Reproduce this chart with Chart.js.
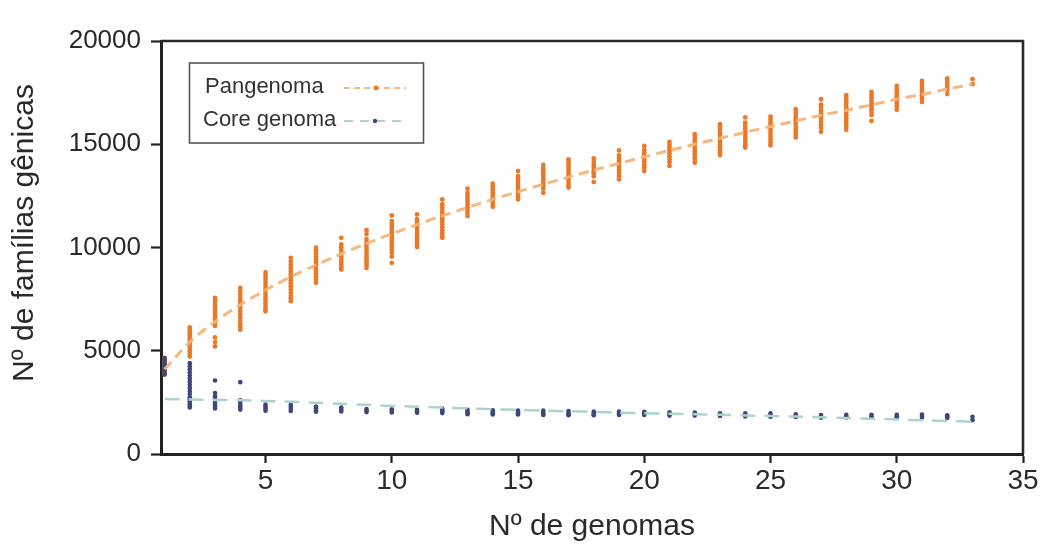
<!DOCTYPE html>
<html><head><meta charset="utf-8">
<script src="https://cdn.jsdelivr.net/npm/chart.js@4.4.1/dist/chart.umd.min.js"></script>
<style>html,body{margin:0;padding:0;background:#fff;}#wrap{width:1043px;height:546px;position:relative;}</style>
</head><body><div id="wrap"><canvas id="c" width="1043" height="546"></canvas></div>
<script>
const genomes = [1,2,3,4,5,6,7,8,9,10,11,12,13,14,15,16,17,18,19,20,21,22,23,24,25,26,27,28,29,30,31,32,33];
const panSamples = [
  [3850,3950,4050,4150,4250,4350,4450,4550,4650],
  [4720,4850,4980,5110,5240,5370,5500,5620,5750,5880,6010,6130],
  [5210,5420,5650,6200,6350,6500,6650,6800,6950,7100,7250,7400,7560],
  [6020,6150,6280,6440,6600,6760,6920,7080,7240,7400,7560,7720,7880,8040],
  [6910,7020,7140,7290,7440,7590,7740,7890,8040,8190,8340,8490,8640,8790],
  [7400,7530,7660,7810,7960,8110,8260,8410,8560,8710,8860,9010,9170,9330,9500],
  [8290,8440,8590,8730,8870,9010,9150,9290,9430,9570,9710,9850,9990],
  [8930,9040,9160,9300,9440,9580,9720,9860,10000,10150,10470],
  [9010,9150,9290,9430,9570,9710,9850,9990,10130,10270,10410,10650,10840],
  [9260,9560,9740,9880,10020,10160,10300,10440,10580,10720,10860,11000,11140,11280,11550],
  [10030,10130,10250,10390,10530,10670,10810,10950,11090,11230,11370,11600],
  [10470,10580,10700,10840,10980,11120,11260,11400,11540,11680,11820,11960,12100,12330],
  [11520,11670,11810,11950,12090,12230,12370,12510,12650,12850],
  [11970,12110,12250,12390,12530,12670,12810,12950,13090],
  [12330,12470,12610,12750,12890,13030,13170,13310,13450,13700],
  [12650,12850,12990,13130,13270,13410,13550,13690,13830,14000],
  [12900,13020,13150,13290,13430,13570,13710,13850,13990,14130,14270],
  [13170,13450,13590,13730,13870,14010,14150,14320],
  [13300,13480,13620,13760,13900,14040,14180,14320,14460,14700],
  [13700,13880,14020,14160,14300,14440,14580,14720,14920],
  [13950,14130,14270,14410,14550,14690,14830,14970,15110],
  [14110,14240,14370,14510,14650,14790,14930,15070,15210,15350,15490],
  [14480,14590,14710,14850,14990,15130,15270,15410,15550,15690,15830,15970],
  [14840,14950,15070,15210,15350,15490,15630,15770,15910,16050,16300],
  [14950,15080,15220,15360,15500,15640,15780,15920,16060,16200,16340],
  [15330,15450,15580,15720,15860,16000,16140,16280,16420,16560,16700],
  [15600,15800,15940,16080,16220,16360,16500,16640,16780,16920,17180],
  [15700,15840,15980,16120,16260,16400,16540,16680,16820,16960,17100,17240,17380],
  [16130,16420,16560,16700,16840,16980,17120,17260,17400,17540],
  [16670,16850,16990,17130,17270,17410,17550,17690,17830],
  [17050,17230,17370,17510,17650,17790,17930,18070],
  [17430,17630,17770,17910,18050,18190],
  [17910,18150]
];
const coreSamples = [
  [3850,3950,4050,4150,4250,4350,4450,4550,4650],
  [2250,2350,2450,2550,2650,2750,2900,3050,3200,3350,3500,3650,3800,3950,4100,4250,4400],
  [2200,2300,2400,2500,2650,2800,2950,3560],
  [2150,2250,2360,2480,2600,3480],
  [2100,2200,2300,2400],
  [2080,2180,2280,2380],
  [2050,2100,2200,2300],
  [2060,2150,2250],
  [2030,2100,2180],
  [2010,2080,2170],
  [2000,2070,2150],
  [1980,2040,2120,2200],
  [1930,1990,2060,2140],
  [1910,1970,2040,2120],
  [1910,1950,2020,2100],
  [1890,1940,2010,2100],
  [1880,1930,2000,2080],
  [1880,1910,1980,2050],
  [1890,1970,2050],
  [1890,1960,2040],
  [1860,1940,2020],
  [1860,1930,2010],
  [1840,1900,1970],
  [1820,1890,1970],
  [1800,1880,1970],
  [1790,1850,1920],
  [1760,1820,1890],
  [1770,1830,1900],
  [1770,1830,1900],
  [1770,1830,1900],
  [1770,1840,1910],
  [1740,1810,1880],
  [1640,1800]
];
const panFit = [4100,5420,6410,7230,7940,8580,9150,9690,10190,10660,11110,11530,11940,12330,12700,13060,13410,13750,14070,14390,14700,15000,15290,15580,15860,16130,16400,16650,16910,17180,17410,17670,17910];
const coreFit = [2660,2640,2620,2600,2570,2530,2480,2430,2380,2330,2290,2250,2210,2170,2140,2100,2070,2040,2000,1970,1950,1930,1900,1870,1840,1810,1780,1740,1710,1670,1630,1600,1560];
const xTicks = [5,10,15,20,25,30,35];
const yTicks = [0,5000,10000,15000,20000];
const seriesNames = ['Pangenoma','Core genoma'];
const xTitle = 'Nº de genomas';
const yTitle = 'Nº de famílias gênicas';

const orangeDot = 'rgb(234,120,38)';
const orangeLine = 'rgba(246,180,120,0.95)';
const blueDot = 'rgb(62,70,122)';
const tealLine = 'rgb(172,212,204)';
const FONT = '"Liberation Sans", Arial, sans-serif';

function scatterPts(samples){
  const out = [];
  samples.forEach((col,i)=>col.forEach(v=>out.push({x:genomes[i],y:v})));
  return out;
}

const decor = {
  id:'decor',
  afterDraw(chart){
    const {ctx, chartArea:a} = chart;
    ctx.save();
    ctx.strokeStyle='#2a2a2a'; ctx.lineWidth=2.6;
    ctx.beginPath(); ctx.moveTo(a.left, a.top); ctx.lineTo(a.right, a.top); ctx.lineTo(a.right, a.bottom); ctx.stroke();
    ctx.fillStyle='#2a2a2a';
    ctx.font='30px '+FONT;
    ctx.textAlign='center'; ctx.textBaseline='middle';
    ctx.save(); ctx.translate(25,233); ctx.rotate(-Math.PI/2); ctx.fillText(yTitle,0,0); ctx.restore();
    ctx.lineWidth=1.6; ctx.strokeStyle='#555';
    ctx.strokeRect(189.5,63,234,80);
    ctx.font='22px '+FONT; ctx.textAlign='left'; ctx.fillStyle='#333';
    ctx.fillText(seriesNames[0],205,87);
    ctx.fillText(seriesNames[1],203,120);
    ctx.setLineDash([6,4]); ctx.lineWidth=1.8; ctx.strokeStyle=orangeLine;
    ctx.beginPath(); ctx.moveTo(344,88); ctx.lineTo(406,88); ctx.stroke();
    ctx.setLineDash([9,7]); ctx.strokeStyle=tealLine;
    ctx.beginPath(); ctx.moveTo(344,121); ctx.lineTo(406,121); ctx.stroke();
    ctx.setLineDash([]);
    ctx.fillStyle=orangeDot; ctx.beginPath(); ctx.arc(376,88,2.4,0,Math.PI*2); ctx.fill();
    ctx.fillStyle=blueDot; ctx.beginPath(); ctx.arc(375,121,2.2,0,Math.PI*2); ctx.fill();
    ctx.restore();
  }
};

new Chart(document.getElementById('c'), {
  data:{
    datasets:[
      {type:'line', label:seriesNames[0]+' fit', data:genomes.map((g,i)=>({x:g,y:panFit[i]})), borderColor:orangeLine, borderWidth:3, borderDash:[10,6], pointRadius:0, fill:false, tension:0.3},
      {type:'line', label:seriesNames[1]+' fit', data:genomes.map((g,i)=>({x:g,y:coreFit[i]})), borderColor:tealLine, borderWidth:2.5, borderDash:[15,9], pointRadius:0, fill:false, tension:0.3},
      {type:'scatter', label:seriesNames[1], data:scatterPts(coreSamples), backgroundColor:blueDot, borderWidth:0, pointRadius:2.3},
      {type:'scatter', label:seriesNames[0], data:scatterPts(panSamples), backgroundColor:orangeDot, borderWidth:0, pointRadius:2.4}
    ]
  },
  options:{
    responsive:false, animation:false, devicePixelRatio:1,
    layout:{padding:{left:0,right:20,top:41,bottom:0}},
    plugins:{legend:{display:false}, tooltip:{enabled:false}},
    scales:{
      x:{type:'linear', min:0.86, max:35,
        afterBuildTicks:s=>{s.ticks = xTicks.map(v=>({value:v}));},
        afterFit:s=>{s.height=92;},
        ticks:{font:{family:FONT,size:28}, color:'#2a2a2a', padding:1, maxRotation:0, callback:v=>String(v)},
        grid:{display:true, drawOnChartArea:false, drawTicks:true, tickLength:9, tickWidth:2.2, tickColor:'#222'},
        border:{display:true, width:3, color:'#222'},
        title:{display:true, text:xTitle, font:{family:FONT,size:30}, color:'#2a2a2a', padding:{top:0,bottom:1}}
      },
      y:{type:'linear', min:0, max:20000,
        afterBuildTicks:s=>{s.ticks = yTicks.map(v=>({value:v}));},
        afterFit:s=>{s.width=161;},
        ticks:{font:{family:FONT,size:26}, color:'#2a2a2a', padding:10, callback:v=>String(v)},
        grid:{display:true, drawOnChartArea:false, drawTicks:true, tickLength:10, tickWidth:2.2, tickColor:'#222'},
        border:{display:true, width:3, color:'#222'}
      }
    }
  },
  plugins:[decor]
});
</script></body></html>
